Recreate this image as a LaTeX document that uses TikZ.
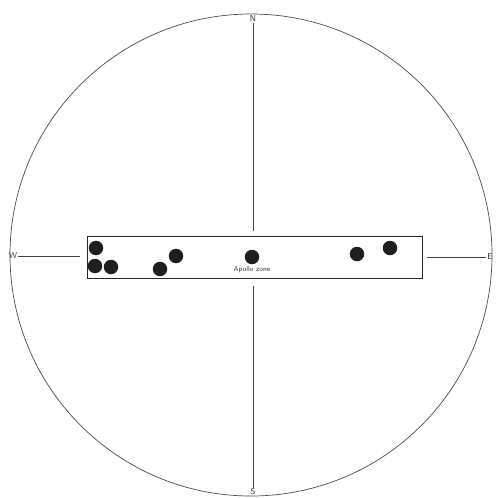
\documentclass[tikz,border=0pt]{standalone}
\usetikzlibrary{positioning}
\begin{document}
\begin{tikzpicture}[x=1pt, y=-1pt,
  dot/.style={circle, fill=black!88, inner sep=0pt, minimum size=14.5pt},
  axis/.style={black!75, line width=0.75pt},
  lbl/.style={font=\sffamily\fontsize{7}{8}\selectfont, inner sep=1pt, text=black!80},
  pt/.style={font=\sffamily\fontsize{8.5}{9}\selectfont, inner sep=1pt, text=black!80}]
  \useasboundingbox (0,0) rectangle (497,498);

  % horizon circle
  \node[draw=black!70, line width=0.7pt, circle, minimum size=482pt, inner sep=0pt] (sky) at (251,255) {};

  % compass points
  \node[pt] (N) at (253,19) {N};
  \node[pt] (S) at (253,492) {S};
  \node[pt] (W) at (13,256) {W};
  \node[pt] (E) at (490,257) {E};

  % the band
  \node[draw=black!85, line width=0.8pt, minimum width=335pt, minimum height=42pt, inner sep=0pt] (zone) at (254.5,257) {};

  % axes, stopping short of the band
  \draw[axis, shorten >=5pt] (N) -- (N |- zone.north);
  \draw[axis, shorten <=8pt] (S |- zone.south) -- (S);
  \draw[axis, shorten >=7pt] (W) -- (W -| zone.west);
  \draw[axis, shorten <=5pt] (E -| zone.east) -- (E);

  % sightings
  \foreach \n/\x/\y in {d1/96/248, d2/95/266, d3/111/267, d4/160/269,
                        d5/176/256, d6/252/257, d7/357/254, d8/390/248}
    \node[dot] (\n) at (\x,\y) {};

  \node[lbl, below=0.5pt of d6] (zonename) {Apollo zone};
\end{tikzpicture}
\end{document}
